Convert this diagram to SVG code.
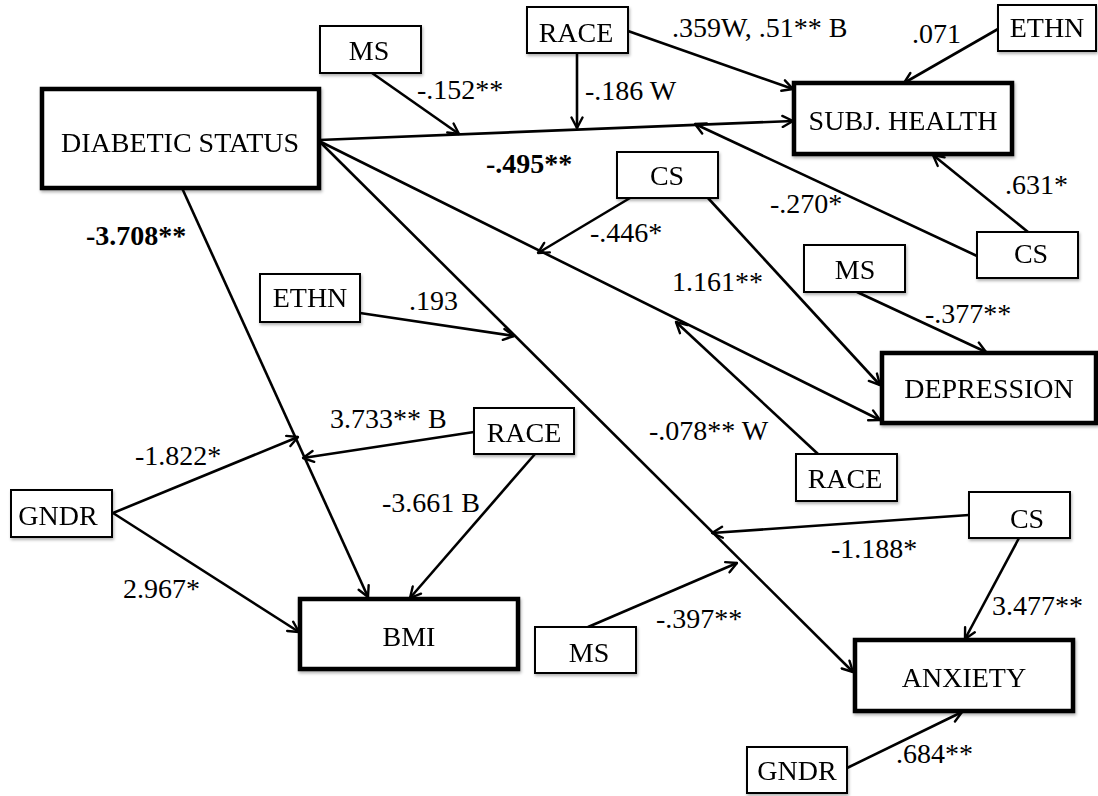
<svg xmlns="http://www.w3.org/2000/svg" width="1098" height="796" viewBox="0 0 1098 796">
<style>
.n rect{fill:#fff;stroke:#000;stroke-width:2}
.k rect{stroke-width:4.5}
.n text{font-family:"Liberation Serif","Times New Roman",serif;font-size:28px;text-anchor:middle;fill:#000}
.c line{stroke:#000;stroke-width:2.6;fill:none;marker-end:url(#ah)}
.l text{font-family:"Liberation Serif","Times New Roman",serif;font-size:28px;fill:#000}
.l .b{font-weight:bold}
</style>
<defs>
<marker id="ah" viewBox="0 0 14 14" refX="12.5" refY="7" markerWidth="14" markerHeight="14" markerUnits="userSpaceOnUse" orient="auto">
<path d="M2,1.5 L12.5,7 L2,12.5" fill="none" stroke="#000" stroke-width="2.4" stroke-linecap="round" stroke-linejoin="round"/>
</marker>
<filter id="sh" x="-10%" y="-10%" width="130%" height="140%">
<feDropShadow dx="1" dy="2" stdDeviation="1.4" flood-color="#000" flood-opacity="0.3"/>
</filter>
</defs>
<rect width="1098" height="796" fill="#fff"/>
<g class="c" id="connectors">
<line x1="319" y1="140" x2="793" y2="121"/>
<line x1="372" y1="73" x2="459" y2="134"/>
<line x1="577" y1="53" x2="577" y2="128"/>
<line x1="628" y1="31" x2="793" y2="89"/>
<line x1="998" y1="29" x2="904" y2="83"/>
<line x1="977" y1="256" x2="695" y2="124"/>
<line x1="1028" y1="232" x2="933" y2="155"/>
<line x1="319" y1="141" x2="880" y2="420"/>
<line x1="630" y1="198" x2="538" y2="253"/>
<line x1="708" y1="198" x2="880" y2="385"/>
<line x1="857" y1="292" x2="986" y2="352"/>
<line x1="818" y1="454" x2="676" y2="322"/>
<line x1="319" y1="141" x2="853" y2="672"/>
<line x1="360" y1="313" x2="514" y2="336"/>
<line x1="182" y1="188" x2="368" y2="597"/>
<line x1="113" y1="513" x2="298" y2="437"/>
<line x1="474" y1="432" x2="303" y2="458"/>
<line x1="535" y1="454" x2="410" y2="598"/>
<line x1="113" y1="513" x2="299" y2="632"/>
<line x1="969" y1="515" x2="712" y2="533"/>
<line x1="588" y1="627" x2="737" y2="563"/>
<line x1="1019" y1="538" x2="965" y2="639"/>
<line x1="847" y1="768" x2="962" y2="712"/>
</g>
<g class="l" id="labels">
<text x="417" y="99">-.152**</text>
<text x="672" y="37">.359W, .51** B</text>
<text x="912" y="43">.071</text>
<text x="585" y="100">-.186 W</text>
<text class="b" x="486" y="173">-.495**</text>
<text class="b" x="86" y="245">-3.708**</text>
<text x="770" y="213">-.270*</text>
<text x="1005" y="194">.631*</text>
<text x="590" y="242">-.446*</text>
<text x="672" y="291">1.161**</text>
<text x="925" y="323">-.377**</text>
<text x="409" y="310">.193</text>
<text x="330" y="428">3.733** B</text>
<text x="135" y="465">-1.822*</text>
<text x="382" y="512">-3.661 B</text>
<text x="649" y="440">-.078** W</text>
<text x="123" y="598">2.967*</text>
<text x="831" y="558">-1.188*</text>
<text x="656" y="628">-.397**</text>
<text x="992" y="615">3.477**</text>
<text x="896" y="763">.684**</text>
</g>
<g class="n k" id="diabetic" filter="url(#sh)"><rect x="42" y="89" width="277" height="99"/><text x="180" y="152">DIABETIC STATUS</text></g>
<g class="n k" id="subj" filter="url(#sh)"><rect x="794" y="83" width="218" height="71"/><text x="903" y="130">SUBJ. HEALTH</text></g>
<g class="n k" id="depression" filter="url(#sh)"><rect x="882" y="353" width="214" height="70"/><text x="989" y="398">DEPRESSION</text></g>
<g class="n k" id="bmi" filter="url(#sh)"><rect x="300" y="599" width="218" height="70"/><text x="409" y="646">BMI</text></g>
<g class="n k" id="anxiety" filter="url(#sh)"><rect x="855" y="640" width="218" height="71"/><text x="964" y="687">ANXIETY</text></g>
<g class="n" id="ms1" filter="url(#sh)"><rect x="320" y="26" width="101" height="47"/><text x="369" y="60">MS</text></g>
<g class="n" id="race1" filter="url(#sh)"><rect x="527" y="7" width="101" height="46"/><text x="576" y="42">RACE</text></g>
<g class="n" id="ethn1" filter="url(#sh)"><rect x="998" y="5" width="98" height="46"/><text x="1047" y="37">ETHN</text></g>
<g class="n" id="cs1" filter="url(#sh)"><rect x="617" y="152" width="101" height="46"/><text x="667" y="185">CS</text></g>
<g class="n" id="cs2" filter="url(#sh)"><rect x="977" y="232" width="101" height="46"/><text x="1031" y="263">CS</text></g>
<g class="n" id="ms2" filter="url(#sh)"><rect x="804" y="245" width="101" height="47"/><text x="855" y="279">MS</text></g>
<g class="n" id="ethn2" filter="url(#sh)"><rect x="260" y="274" width="100" height="48"/><text x="310" y="307">ETHN</text></g>
<g class="n" id="race2" filter="url(#sh)"><rect x="474" y="408" width="100" height="46"/><text x="524" y="442">RACE</text></g>
<g class="n" id="gndr1" filter="url(#sh)"><rect x="11" y="490" width="101" height="47"/><text x="58" y="525">GNDR</text></g>
<g class="n" id="race3" filter="url(#sh)"><rect x="796" y="454" width="101" height="47"/><text x="845" y="488">RACE</text></g>
<g class="n" id="cs3" filter="url(#sh)"><rect x="969" y="492" width="101" height="46"/><text x="1027" y="528">CS</text></g>
<g class="n" id="ms3" filter="url(#sh)"><rect x="535" y="627" width="101" height="46"/><text x="589" y="662">MS</text></g>
<g class="n" id="gndr2" filter="url(#sh)"><rect x="747" y="747" width="100" height="46"/><text x="797" y="780">GNDR</text></g>
</svg>
